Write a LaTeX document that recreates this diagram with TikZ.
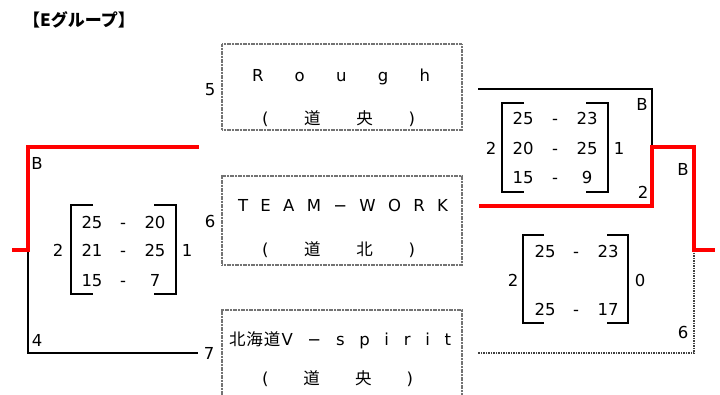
\documentclass[tikz,border=0pt]{standalone}
\usepackage{fontspec}
\setmainfont{DejaVu Sans}
\newfontfamily\cjk{Noto Sans CJK JP}
\begin{document}
\begin{tikzpicture}[x=1pt,y=-1pt,
  txt/.style={inner sep=0pt, text height=12pt, text depth=0pt, font=\fontsize{16.5}{18}\selectfont},
  title/.style={inner sep=0pt, font=\fontsize{17}{19}\selectfont\cjk\bfseries},
  team/.style={draw=black!55, line width=1.4pt, dash pattern=on 1.2pt off 0.4pt, minimum width=240pt, inner sep=0pt},
  winline/.style={red, line width=4pt},
  blk/.style={black, line width=2pt},
  brk/.style={black, line width=2pt},
  dotline/.style={black!75, line width=1.3pt, dash pattern=on 1.5pt off 1pt}]
\useasboundingbox[fill=white] (0,0) rectangle (720,394);

% title
\node[title, anchor=west] (ttl) at (23,20) {【Eグループ】};

% team boxes
\node[team, minimum height=86pt] (box1) at (342,87) {};
\node[team, minimum height=89pt] (box2) at (342,220.5) {};
\node[team, minimum height=92pt] (box3) at (342,356) {};

\node[txt] (n1a) at (341,75) {\makebox[178pt]{R\hfill o\hfill u\hfill g\hfill h}};
\node[txt] (n1b) at (338.5,118) {\makebox[153pt]{(\hfill{\cjk 道}\hfill{\cjk 央}\hfill)}};
\node[txt] (n2a) at (343,205) {\makebox[210pt]{T\hfill E\hfill A\hfill M\hfill −\hfill W\hfill O\hfill R\hfill K}};
\node[txt] (n2b) at (338.5,249) {\makebox[153pt]{(\hfill{\cjk 道}\hfill{\cjk 北}\hfill)}};
\node[txt] (n3a) at (340,339) {\makebox[222pt]{{\cjk 北\kern1pt 海\kern1pt 道}\kern1pt V\hfill −\hfill s\hfill p\hfill i\hfill r\hfill i\hfill t}};
\node[txt] (n3b) at (337.5,378) {\makebox[151pt]{(\hfill{\cjk 道}\hfill{\cjk 央}\hfill)}};

\node[txt] (s5) at (210,89) {5};
\node[txt] (s6) at (210,221) {6};
\node[txt] (s7) at (209,353) {7};

% left match
\coordinate (la) at (12,250);
\coordinate (lb) at (28,250);
\coordinate (lc) at (28,147);
\coordinate (ld) at (199,147);
\coordinate (le) at (28,353);
\coordinate (lf) at (198,353);
\draw[blk] (lb) -- (le) -- (lf);
\draw[winline] (la) -- (lb) -- (lc) -- (ld);
\node[txt] (lB) at (37,163) {B};
\node[txt] (l4) at (37,340) {4};

\draw[brk] (93,205) -- (71,205) -- (71,294) -- (93,294);
\draw[brk] (154,205) -- (176,205) -- (176,294) -- (154,294);
\node[txt] (lsL) at (58,250) {2};
\node[txt] (lsR) at (187,250) {1};
\node[txt] (l11) at (92,222) {25};
\node[txt] (l12) at (123,222) {-};
\node[txt] (l13) at (155,222) {20};
\node[txt] (l21) at (92,250) {21};
\node[txt] (l22) at (123,250) {-};
\node[txt] (l23) at (155,250) {25};
\node[txt] (l31) at (92,280) {15};
\node[txt] (l32) at (123,280) {-};
\node[txt] (l33) at (155,280) {7};

% right upper match
\coordinate (ra) at (478,89);
\coordinate (rb) at (652,89);
\coordinate (rc) at (652,147);
\coordinate (rd) at (479,206);
\coordinate (re) at (652,206);
\coordinate (rf) at (694,147);
\coordinate (rg) at (694,250);
\coordinate (rh) at (715,250);
\coordinate (ri) at (694,353);
\coordinate (rj) at (478,353);
\draw[blk] (ra) -- (rb) -- (rc);
\draw[dotline] (rg) -- (ri) -- (rj);
\draw[winline] (rd) -- (re) -- (rc) -- (rf) -- (rg) -- (rh);
\node[txt] (rB1) at (642,104) {B};
\node[txt] (r2) at (643,192) {2};
\node[txt] (rB2) at (683,169) {B};
\node[txt] (r6) at (683,332) {6};

\draw[brk] (524,103) -- (502,103) -- (502,192) -- (524,192);
\draw[brk] (586,103) -- (608,103) -- (608,192) -- (586,192);
\node[txt] (usL) at (491,148) {2};
\node[txt] (usR) at (619,148) {1};
\node[txt] (u11) at (523,118) {25};
\node[txt] (u12) at (555,118) {-};
\node[txt] (u13) at (587,118) {23};
\node[txt] (u21) at (523,148) {20};
\node[txt] (u22) at (555,148) {-};
\node[txt] (u23) at (587,148) {25};
\node[txt] (u31) at (523,177) {15};
\node[txt] (u32) at (555,177) {-};
\node[txt] (u33) at (587,177) {9};

% right lower match
\draw[brk] (544,235) -- (523,235) -- (523,323) -- (544,323);
\draw[brk] (607,235) -- (628,235) -- (628,323) -- (607,323);
\node[txt] (dsL) at (513,280) {2};
\node[txt] (dsR) at (640,280) {0};
\node[txt] (d11) at (545,251) {25};
\node[txt] (d12) at (576,251) {-};
\node[txt] (d13) at (608,251) {23};
\node[txt] (d21) at (545,309) {25};
\node[txt] (d22) at (576,309) {-};
\node[txt] (d23) at (608,309) {17};
\end{tikzpicture}
\end{document}
